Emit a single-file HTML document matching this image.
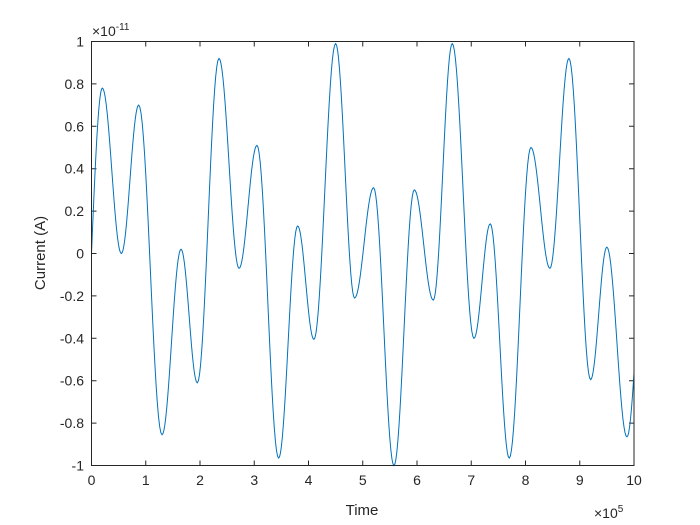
<!DOCTYPE html>
<html><head><meta charset="utf-8"><style>
body{margin:0;background:#fff;}
svg{display:block;font-family:"Liberation Sans",Arial,sans-serif;}
</style></head><body>
<svg id="s" width="700" height="525" viewBox="0 0 700 525">
<rect width="700" height="525" fill="#fff"/>
<defs><clipPath id="c"><rect x="91" y="38" width="543" height="430"/></clipPath></defs>
<g id="ticks" stroke="#262626" stroke-width="1" fill="none"></g>
<path id="p" d="" fill="none" stroke="#0072BD" stroke-width="1" clip-path="url(#c)"/>
<rect x="91.5" y="41.5" width="542.5" height="424" fill="none" stroke="#262626" stroke-width="1"/>
<g id="lab" font-size="14" fill="#262626"></g>
<text x="92" y="36" font-size="14" fill="#262626">×10<tspan dy="-6" font-size="10">-11</tspan></text>
<text x="594" y="518" font-size="14" fill="#262626">×10<tspan dy="-6" font-size="10">5</tspan></text>
<text x="362" y="515" font-size="15" fill="#262626" text-anchor="middle">Time</text>
<text transform="translate(45,253) rotate(-90)" font-size="15" fill="#262626" text-anchor="middle">Current (A)</text>
</svg>
<script>
var X=function(t){return 91.5+t*54.25},Y=function(v){return 253.5-v*212};
var ns="http://www.w3.org/2000/svg",tk=document.getElementById('ticks'),lb=document.getElementById('lab');
var d="";
for(var i=0;i<=10;i++){var x=X(i);d+="M"+x+" 465.5V460.5M"+x+" 41.5V46.5";
var t=document.createElementNS(ns,'text');t.setAttribute('x',x);t.setAttribute('y',485);t.setAttribute('text-anchor','middle');t.textContent=i;lb.appendChild(t);}
for(var j=-5;j<=5;j++){var v=j/5,y=Y(v);d+="M91.5 "+y+"H96.5M634 "+y+"H629";
var t=document.createElementNS(ns,'text');t.setAttribute('x',84);t.setAttribute('y',y+5);t.setAttribute('text-anchor','end');
var s=(Math.round(v*10)/10).toString();if(s=="-0")s="0";t.textContent=s;lb.appendChild(t);}
var tp=document.createElementNS(ns,'path');tp.setAttribute('d',d);tk.appendChild(tp);
var P=[[0,0],[0.2,0.78],[0.55,0.0],[0.87,0.70],[1.3,-0.855],[1.65,0.02],[1.95,-0.61],[2.35,0.92],[2.72,-0.07],[3.05,0.51],[3.45,-0.965],[3.8,0.13],[4.1,-0.405],[4.5,0.99],[4.85,-0.21],[5.2,0.31],[5.575,-1],[5.95,0.30],[6.3,-0.22],[6.65,0.99],[7.05,-0.40],[7.35,0.14],[7.7,-0.965],[8.1,0.50],[8.45,-0.07],[8.8,0.92],[9.2,-0.595],[9.5,0.03],[9.87,-0.865],[10.2,0.03]];
var pd="M"+X(0)+" "+Y(0);
for(var k=0;k<P.length-1;k++){var a=P[k],b=P[k+1];
for(var n=1;n<=20;n++){var u=n/20;var t=a[0]+(b[0]-a[0])*u;var w=(k==0)?Math.sin(u*Math.PI/2):(1-Math.cos(u*Math.PI))/2;
var v=a[1]+(b[1]-a[1])*w;pd+="L"+X(t).toFixed(2)+" "+Y(v).toFixed(2);}}
document.getElementById('p').setAttribute('d',pd);
</script>
</body></html>
